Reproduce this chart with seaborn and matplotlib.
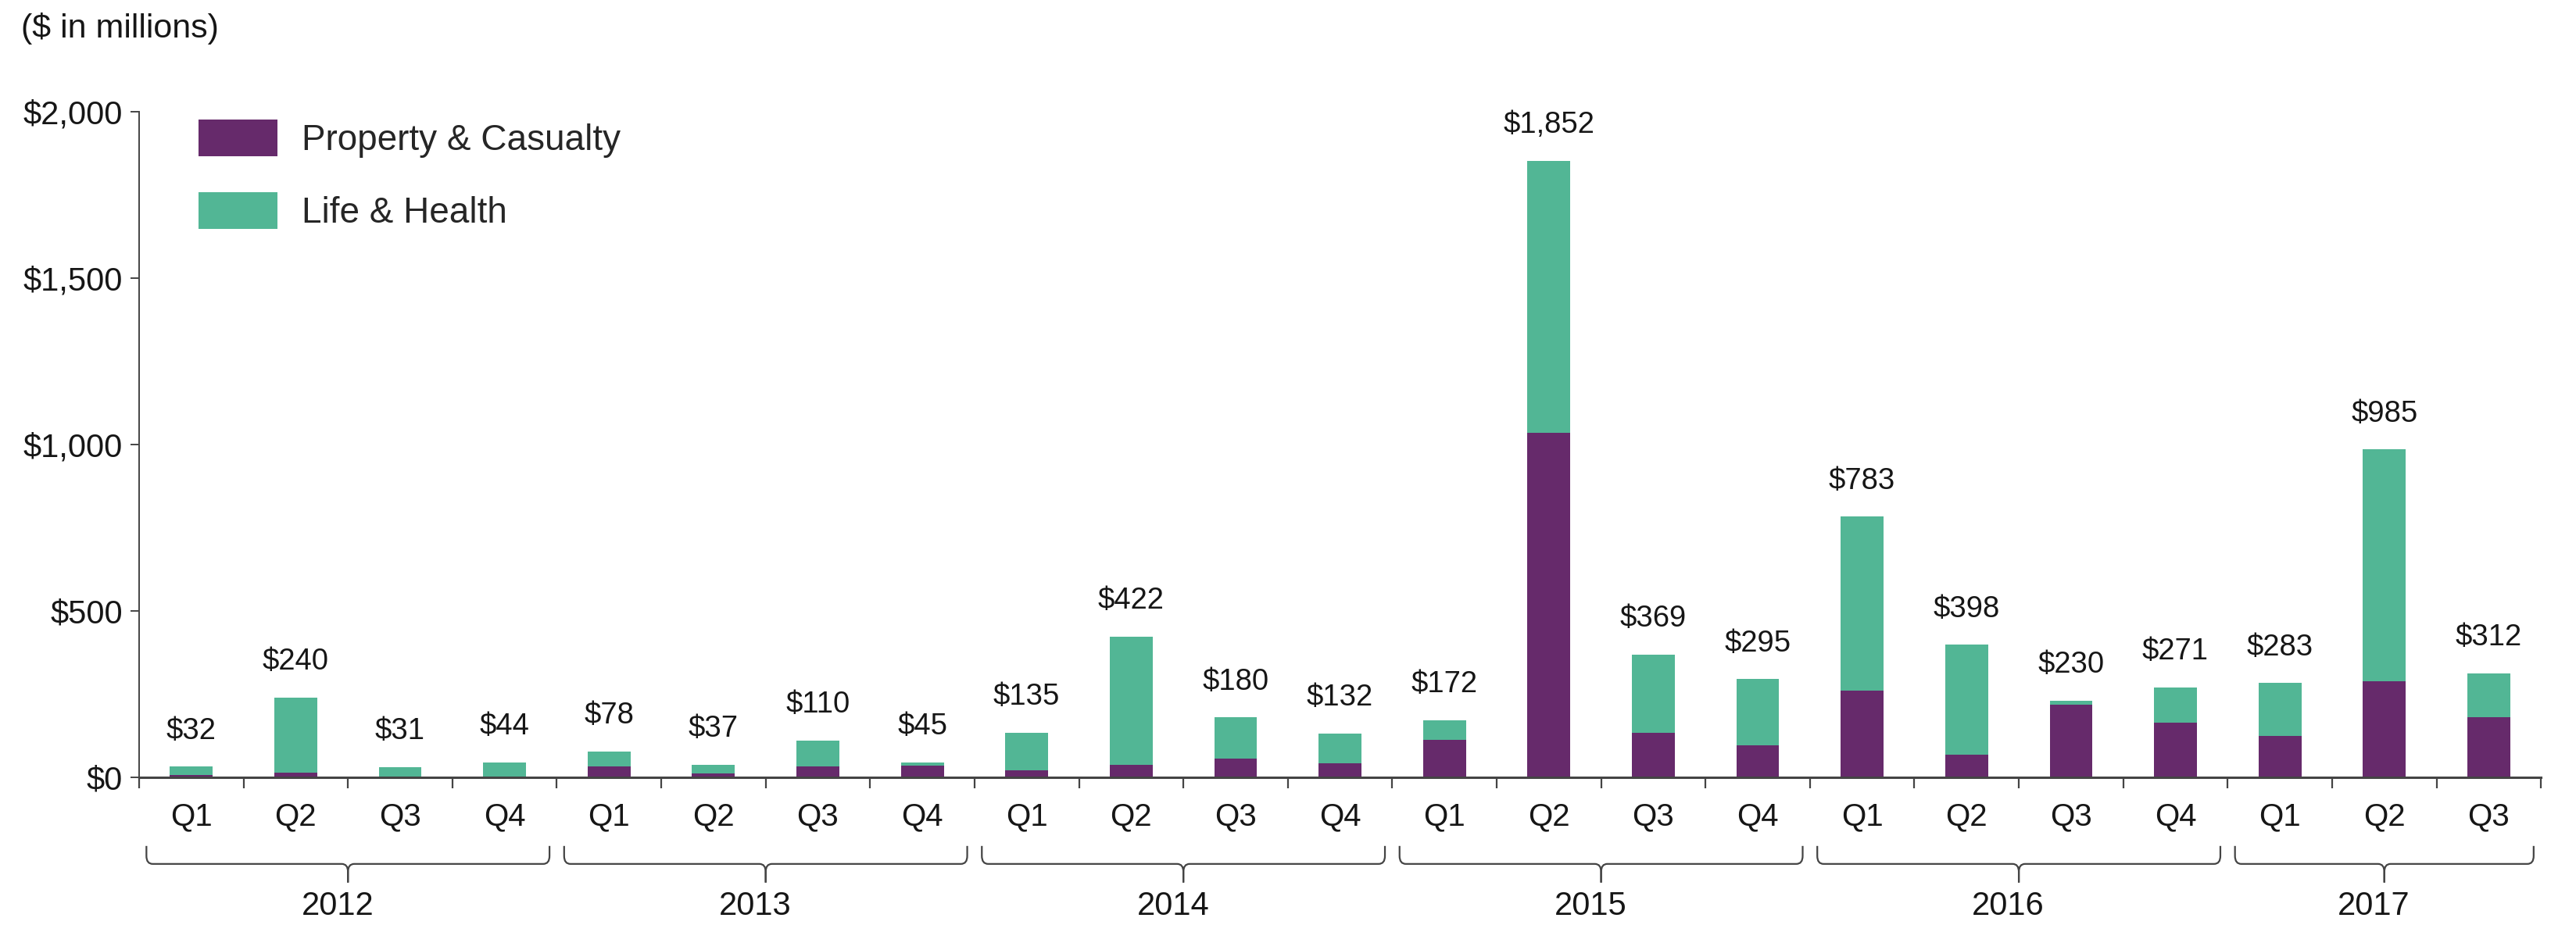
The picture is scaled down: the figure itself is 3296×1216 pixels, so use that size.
import matplotlib
matplotlib.use("Agg")
import matplotlib.pyplot as plt
import seaborn as sns
from matplotlib.patches import Patch, PathPatch
from matplotlib.path import Path
from matplotlib.ticker import FuncFormatter

# ==========================
# Data ($ in millions)
# ==========================

years = ["2012", "2013", "2014", "2015", "2016", "2017"]
quarters_per_year = [4, 4, 4, 4, 4, 3]
quarter_labels = ["Q1", "Q2", "Q3", "Q4"] * 5 + ["Q1", "Q2", "Q3"]

totals = [32, 240, 31, 44, 78, 37, 110, 45, 135, 422, 180, 132,
          172, 1852, 369, 295, 783, 398, 230, 271, 283, 985, 312]
property_casualty = [8, 15, 3, 2, 33, 12, 33, 35, 21, 38, 57, 42,
                     112, 1035, 135, 97, 260, 68, 219, 165, 125, 290, 182]
life_health = [t - p for t, p in zip(totals, property_casualty)]

periods = []
for y, n in zip(years, quarters_per_year):
    for q in range(n):
        periods.append(f"{y} Q{q + 1}")

purple = "#662a6b"
green = "#52b695"
ink = "#161616"
line_col = "#444444"

# ==========================
# Style
# ==========================

sns.set_theme(style="white")
plt.rcParams["font.family"] = ["Liberation Sans", "DejaVu Sans"]

fig = plt.figure(figsize=(32.96, 12.16), dpi=100)
ax = fig.add_axes([0.0540, 0.1817, 0.9324, 0.7007])

# stacked bars: total (green) with P&C (purple) drawn over it
sns.barplot(x=periods, y=totals, color=green, width=0.41,
            saturation=1, linewidth=0, ax=ax)
sns.barplot(x=periods, y=property_casualty, color=purple, width=0.41,
            saturation=1, linewidth=0, ax=ax)

n = len(periods)
ax.set_xlim(-0.5, n - 0.5)
ax.set_ylim(0, 2000)

# value labels above bars
for i, t in enumerate(totals):
    ax.annotate(f"${t:,}", (i, t), xytext=(0, 33), textcoords="offset points",
                ha="center", va="center", fontsize=27.5, color=ink)

# ==========================
# Axes, ticks
# ==========================

for s in ["top", "right"]:
    ax.spines[s].set_visible(False)
ax.spines["left"].set_bounds(0, 2000)
ax.spines["left"].set_color(line_col)
ax.spines["left"].set_linewidth(1.4)
ax.spines["bottom"].set_color(line_col)
ax.spines["bottom"].set_linewidth(2.2)

ax.set_yticks([0, 500, 1000, 1500, 2000])
ax.yaxis.set_major_formatter(FuncFormatter(lambda v, _: f"${v:,.0f}"))
ax.tick_params(axis="y", left=True, length=8, width=1.4, color=line_col,
               pad=7, labelsize=30, labelcolor=ink)

ax.set_xticks([i - 0.5 for i in range(n + 1)])
ax.set_xticklabels([])
ax.tick_params(axis="x", bottom=True, length=10, width=1.6, color=line_col)
ax.set_xlabel("")
ax.set_ylabel("")

xt = ax.get_xaxis_transform()
for i, q in enumerate(quarter_labels):
    ax.text(i, -0.059, q, transform=xt, ha="center", va="center",
            fontsize=29, color=ink)

# year brackets
ytop, yh, ynub, ry, rx = -0.103, -0.130, -0.158, 0.012, 0.06
start = 0
for y, cnt in zip(years, quarters_per_year):
    x0 = start - 0.5 + 0.07
    x1 = start + cnt - 0.5 - 0.07
    xm = (x0 + x1) / 2
    for a, b in [(x0, xm), (x1, xm)]:
        sgn = 1 if b > a else -1
        verts = [(a, ytop), (a, yh + ry), (a, yh), (a + sgn * rx, yh),
                 (b - sgn * rx, yh), (b, yh), (b, yh - ry), (b, ynub)]
        codes = [Path.MOVETO, Path.LINETO, Path.CURVE3, Path.CURVE3,
                 Path.LINETO, Path.CURVE3, Path.CURVE3, Path.LINETO]
        ax.add_patch(PathPatch(Path(verts, codes), transform=xt, fill=False,
                               edgecolor=line_col, linewidth=1.6, clip_on=False))
    ax.text(xm - 0.1, -0.194, y, transform=xt, ha="center", va="center",
            fontsize=30, color=ink)
    start += cnt

# ==========================
# Legend and caption
# ==========================

handles = [Patch(facecolor=purple, edgecolor="none", label="Property & Casualty"),
           Patch(facecolor=green, edgecolor="none", label="Life & Health")]
ax.legend(handles=handles, loc="upper left", bbox_to_anchor=(0.0247, 0.988),
          frameon=False, fontsize=33, handlelength=2.2, handleheight=1.2,
          handletextpad=0.68, labelspacing=0.95, borderpad=0, borderaxespad=0)

fig.text(0.0082, 0.9696, "($ in millions)", ha="left", va="center",
         fontsize=31, color=ink)

fig.savefig("out.png", dpi=100)
